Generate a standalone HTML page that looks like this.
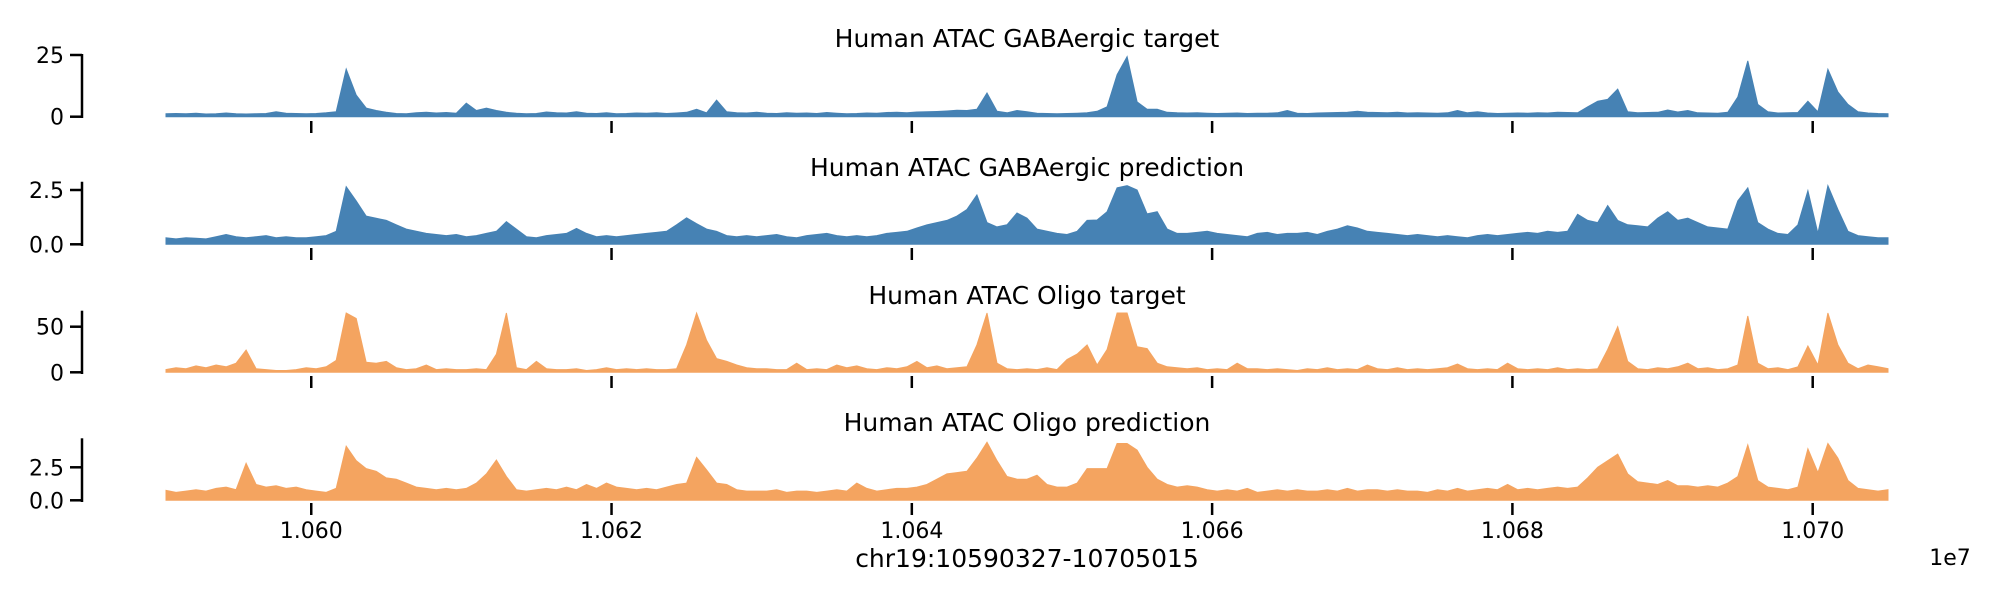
<!DOCTYPE html>
<html><head><meta charset="utf-8"><style>
body{margin:0;background:#fff;}
svg{display:block;font-family:"DejaVu Sans","Liberation Sans",sans-serif;}
</style></head><body>
<svg id="chart" width="2000" height="600" viewBox="0 0 2000 600" xmlns="http://www.w3.org/2000/svg"></svg>
<script>
const xStart = 10590327, xEnd = 10705015;
const xTicks = [10600000, 10620000, 10640000, 10660000, 10680000, 10700000];
const xTickLabels = ["1.060","1.062","1.064","1.066","1.068","1.070"];
const titles = ["Human ATAC GABAergic target","Human ATAC GABAergic prediction","Human ATAC Oligo target","Human ATAC Oligo prediction"];
const yTicks1 = [0,25], yTickLabels1 = ["0","25"];
const yTicks2 = [0,2.5], yTickLabels2 = ["0.0","2.5"];
const yTicks3 = [0,50], yTickLabels3 = ["0","50"];
const yTicks4 = [0,2.5], yTickLabels4 = ["0.0","2.5"];
const gabaTarget = [1.2,1.3,1.2,1.4,1.1,1.2,1.5,1.2,1.1,1.2,
1.3,2.0,1.4,1.3,1.2,1.3,1.6,2.0,19.3,8.8,
3.5,2.5,1.8,1.3,1.2,1.6,1.8,1.5,1.7,1.4,
5.5,2.5,3.5,2.5,1.8,1.4,1.2,1.3,1.9,1.6,
1.5,2.0,1.4,1.3,1.6,1.2,1.3,1.5,1.4,1.6,
1.3,1.5,1.8,3.0,1.6,6.7,2.0,1.6,1.5,1.8,
1.4,1.3,1.6,1.4,1.5,1.3,1.7,1.4,1.2,1.3,
1.5,1.4,1.7,1.8,1.6,1.9,2.0,2.1,2.3,2.6,
2.5,3.0,9.6,2.2,1.6,2.5,2.0,1.4,1.3,1.2,
1.3,1.4,1.6,2.2,4.0,17,24.3,6,3,3,
1.8,1.6,1.5,1.6,1.4,1.3,1.4,1.5,1.3,1.4,
1.4,1.6,2.5,1.4,1.3,1.5,1.6,1.7,1.8,2.2,
1.8,1.7,1.6,1.8,1.5,1.6,1.5,1.4,1.6,2.5,
1.6,2.0,1.5,1.3,1.4,1.5,1.4,1.6,1.5,1.8,
1.7,1.6,4.0,6.3,7,11.2,2.0,1.6,1.7,1.8,
2.7,1.9,2.5,1.6,1.5,1.4,1.8,8,22.6,5,
2.0,1.5,1.6,1.7,6.3,2.0,19.2,10,5,2.0,
1.5,1.3,1.2];
const gabaPred = [0.3,0.25,0.3,0.28,0.25,0.35,0.45,0.35,0.3,0.35,
0.4,0.3,0.35,0.3,0.3,0.35,0.4,0.6,2.65,2.0,
1.3,1.2,1.1,0.9,0.7,0.6,0.5,0.45,0.4,0.45,
0.35,0.4,0.5,0.6,1.04,0.7,0.35,0.3,0.4,0.45,
0.5,0.73,0.5,0.35,0.4,0.35,0.4,0.45,0.5,0.55,
0.6,0.9,1.22,0.95,0.7,0.6,0.4,0.35,0.4,0.35,
0.4,0.45,0.35,0.3,0.4,0.45,0.5,0.4,0.35,0.4,
0.35,0.4,0.5,0.55,0.6,0.75,0.9,1.0,1.1,1.3,
1.6,2.27,1.0,0.8,0.9,1.44,1.2,0.7,0.6,0.5,
0.45,0.6,1.1,1.12,1.5,2.6,2.7,2.5,1.4,1.5,
0.7,0.5,0.5,0.55,0.6,0.5,0.45,0.4,0.35,0.5,
0.55,0.45,0.5,0.5,0.55,0.45,0.6,0.7,0.85,0.75,
0.6,0.55,0.5,0.45,0.4,0.45,0.4,0.35,0.4,0.35,
0.3,0.4,0.45,0.4,0.45,0.5,0.55,0.5,0.6,0.55,
0.6,1.38,1.1,1.0,1.78,1.1,0.9,0.85,0.8,1.2,
1.5,1.1,1.2,1.0,0.8,0.75,0.7,2.0,2.6,1.0,
0.7,0.5,0.45,0.9,2.47,0.5,2.7,1.6,0.6,0.4,
0.35,0.3,0.3];
const oligoTarget = [3,5,4,7,5,8,6,10,24.5,4,
3,2,2,3,5,4,6,13,65,59,
11,10,12,5,3,4,8,3,4,3,
3,4,3,20,65,5,3,12,4,3,
3,4,2,3,5,3,4,3,4,3,
3,4,30,65,35,15,12,8,5,4,
4,3,3,10,3,4,3,8,5,7,
4,3,5,4,6,12,5,7,4,5,
6,30,65,10,4,3,4,3,5,3,
14,20,30,8,25,65,65,28,26,10,
6,5,4,5,3,4,3,10,4,4,
3,4,3,2,4,3,5,3,4,3,
8,4,3,5,3,4,3,4,5,9,
4,3,4,3,10,4,3,4,3,5,
3,4,3,4,25,50,12,4,3,5,
4,6,10,4,5,3,4,8,61.7,10,
4,5,3,6,28.8,8,65,30,10,4,
8,6,4];
const oligoPred = [0.75,0.6,0.7,0.8,0.7,0.9,1.0,0.8,2.8,1.2,
1.0,1.1,0.9,1.0,0.8,0.7,0.6,0.9,4.1,3.0,
2.4,2.2,1.7,1.6,1.3,1.0,0.9,0.8,0.9,0.8,
0.9,1.3,2.0,3.05,1.8,0.8,0.7,0.8,0.9,0.8,
1.0,0.8,1.2,0.9,1.3,1.0,0.9,0.8,0.9,0.8,
1.0,1.2,1.3,3.25,2.3,1.3,1.2,0.8,0.7,0.7,
0.7,0.8,0.6,0.7,0.7,0.6,0.7,0.8,0.7,1.3,
0.9,0.7,0.8,0.9,0.9,1.0,1.2,1.6,2.0,2.1,
2.2,3.2,4.4,3.0,1.8,1.6,1.6,1.9,1.2,1.0,
1.0,1.3,2.4,2.4,2.4,4.3,4.3,3.8,2.5,1.6,
1.2,1.0,1.1,1.0,0.8,0.7,0.8,0.7,0.9,0.6,
0.7,0.8,0.7,0.8,0.7,0.7,0.8,0.7,0.9,0.7,
0.8,0.8,0.7,0.8,0.7,0.7,0.6,0.8,0.7,0.9,
0.7,0.8,0.9,0.8,1.2,0.8,0.9,0.8,0.9,1.0,
0.9,1.0,1.7,2.5,3.0,3.5,2.0,1.4,1.3,1.2,
1.5,1.1,1.1,1.0,1.1,1.0,1.3,1.8,4.2,1.5,
1.0,0.9,0.8,1.0,3.9,2.1,4.3,3.2,1.5,0.9,
0.8,0.7,0.8];

const NS = "http://www.w3.org/2000/svg";
const svg = document.getElementById("chart");
function mk(tag, attrs, parent){const e=document.createElementNS(NS,tag);for(const k in attrs)e.setAttribute(k,attrs[k]);(parent||svg).appendChild(e);return e;}
const pxL = 166, pxR = 1888;
function xScale(v){return pxL + (v - xStart)/(xEnd - xStart)*(pxR - pxL);}
const panels = [
 {data:gabaTarget, ticks:yTicks1, labels:yTickLabels1, color:"#4682b4", zero:116.7, refV:25, refY:55, top:54, bot:118, xt:121},
 {data:gabaPred, ticks:yTicks2, labels:yTickLabels2, color:"#4682b4", zero:244.3, refV:2.5, refY:190, top:181.7, bot:246, xt:248},
 {data:oligoTarget, ticks:yTicks3, labels:yTickLabels3, color:"#f4a460", zero:372.3, refV:50, refY:326.7, top:310.7, bot:374, xt:376},
 {data:oligoPred, ticks:yTicks4, labels:yTickLabels4, color:"#f4a460", zero:500.3, refV:2.5, refY:467.3, top:438.3, bot:502, xt:503}
];
const titleY = [38, 167, 295, 422];
panels.forEach((p, k) => {
  const g = mk("g", {});
  
  
  const yScale = v => Math.max(p.top, p.zero - v/p.refV*(p.zero - p.refY));
  const n = p.data.length;
  const pos = i => xStart + i*(xEnd - xStart)/(n-1);
  let d = "M" + xScale(pos(0)) + "," + p.zero;
  p.data.forEach((v,i) => { d += " L" + xScale(pos(i)).toFixed(1) + "," + yScale(v).toFixed(1); });
  d += " L" + xScale(pos(n-1)) + "," + p.zero + " Z";
  const area = mk("path", {d:d, fill:p.color, stroke:p.color, "stroke-width":1}, g);
  
  
  const sp = mk("line", {x1:82, x2:82, y1:p.top, y2:p.bot, stroke:"#000", "stroke-width":2.5}, g);
  
  
  p.ticks.forEach((t,j) => {
    const y = p.zero - t/p.refV*(p.zero - p.refY);
    const tl = mk("line", {x1:70, x2:82, y1:y, y2:y, stroke:"#000", "stroke-width":2.5}, g);
    
    
    const tx = mk("text", {x:64, y:y+8, "text-anchor":"end", "font-size":22}, g);
    
    
    tx.textContent = p.labels[j];
  });
  xTicks.forEach((t,j) => {
    const x = xScale(t);
    const tl = mk("line", {x1:x, x2:x, y1:p.xt, y2:p.xt+12, stroke:"#000", "stroke-width":2.5}, g);
    
    
    if (k === 3) {
      const tx = mk("text", {x:x, y:538, "text-anchor":"middle", "font-size":22}, g);
      
      
      tx.textContent = xTickLabels[j];
    }
  });
  const tt = mk("text", {x:1027, y:titleY[k]+9, "text-anchor":"middle", "font-size":25}, g);
  
  
  tt.textContent = titles[k];
});
const xl = mk("text", {x:1027, y:567, "text-anchor":"middle", "font-size":25});


xl.textContent = "chr19:10590327-10705015";
const ex = mk("text", {x:1950, y:565, "text-anchor":"middle", "font-size":22});


ex.textContent = "1e7";
</script>
</body></html>
